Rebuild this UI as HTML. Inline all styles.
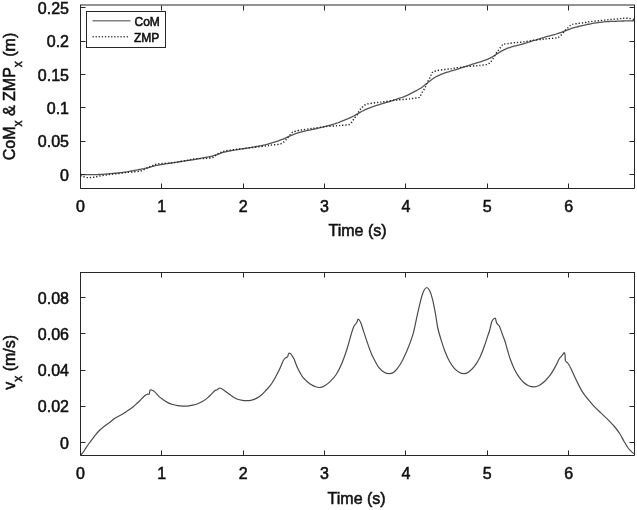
<!DOCTYPE html>
<html><head><meta charset="utf-8"><style>
html,body{margin:0;padding:0;background:#fff;width:637px;height:510px;overflow:hidden}
svg{display:block;filter:blur(0.3px)}
text{font-family:"Liberation Sans", sans-serif;font-size:16px;fill:#111;font-weight:normal;stroke:#111;stroke-width:0.55px}
</style></head><body>
<svg width="637" height="510" viewBox="0 0 637 510">
<rect width="637" height="510" fill="#fff"/>
<g clip-path="url(#c1)">
<path d="M80.50,174.49 C80.83,174.51 81.83,174.56 82.50,174.59 C83.17,174.62 83.83,174.64 84.50,174.66 C85.17,174.68 85.83,174.69 86.50,174.70 C87.17,174.71 87.83,174.71 88.50,174.71 C89.17,174.71 89.83,174.70 90.50,174.69 C91.17,174.68 91.83,174.67 92.50,174.66 C93.17,174.65 93.83,174.63 94.50,174.62 C95.17,174.60 95.83,174.59 96.50,174.57 C97.17,174.55 97.83,174.53 98.50,174.51 C99.17,174.49 99.83,174.46 100.50,174.42 C101.17,174.39 101.83,174.35 102.50,174.30 C103.17,174.26 103.83,174.21 104.50,174.16 C105.17,174.10 105.83,174.04 106.50,173.98 C107.17,173.93 107.83,173.87 108.50,173.81 C109.17,173.75 109.83,173.69 110.50,173.63 C111.17,173.57 111.83,173.51 112.50,173.45 C113.17,173.39 113.83,173.33 114.50,173.27 C115.17,173.20 115.83,173.14 116.50,173.08 C117.17,173.01 117.83,172.95 118.50,172.88 C119.17,172.82 119.83,172.75 120.50,172.68 C121.17,172.61 121.83,172.54 122.50,172.46 C123.17,172.38 123.83,172.30 124.50,172.20 C125.17,172.11 125.83,172.01 126.50,171.90 C127.17,171.79 127.83,171.67 128.50,171.55 C129.17,171.43 129.83,171.30 130.50,171.17 C131.17,171.04 131.83,170.91 132.50,170.78 C133.17,170.66 133.83,170.53 134.50,170.41 C135.17,170.28 135.83,170.16 136.50,170.04 C137.17,169.91 137.83,169.79 138.50,169.67 C139.17,169.55 139.83,169.43 140.50,169.30 C141.17,169.18 141.83,169.05 142.50,168.92 C143.17,168.79 143.83,168.65 144.50,168.51 C145.17,168.37 145.83,168.22 146.50,168.07 C147.17,167.91 147.83,167.75 148.50,167.58 C149.17,167.40 149.83,167.21 150.50,167.02 C151.17,166.84 151.83,166.64 152.50,166.45 C153.17,166.27 153.83,166.08 154.50,165.91 C155.17,165.74 155.83,165.58 156.50,165.43 C157.17,165.29 157.83,165.16 158.50,165.04 C159.17,164.92 159.83,164.81 160.50,164.70 C161.17,164.58 161.83,164.47 162.50,164.36 C163.17,164.26 163.83,164.15 164.50,164.04 C165.17,163.94 165.83,163.83 166.50,163.73 C167.17,163.62 167.83,163.52 168.50,163.42 C169.17,163.32 169.83,163.21 170.50,163.11 C171.17,163.01 171.83,162.91 172.50,162.81 C173.17,162.71 173.83,162.61 174.50,162.51 C175.17,162.41 175.83,162.31 176.50,162.21 C177.17,162.11 177.83,162.01 178.50,161.91 C179.17,161.81 179.83,161.70 180.50,161.60 C181.17,161.50 181.83,161.40 182.50,161.30 C183.17,161.20 183.83,161.10 184.50,161.00 C185.17,160.90 185.83,160.80 186.50,160.70 C187.17,160.60 187.83,160.50 188.50,160.40 C189.17,160.30 189.83,160.20 190.50,160.10 C191.17,159.99 191.83,159.89 192.50,159.78 C193.17,159.68 193.83,159.57 194.50,159.46 C195.17,159.34 195.83,159.23 196.50,159.11 C197.17,158.99 197.83,158.87 198.50,158.74 C199.17,158.62 199.83,158.49 200.50,158.36 C201.17,158.23 201.83,158.10 202.50,157.98 C203.17,157.85 203.83,157.72 204.50,157.60 C205.17,157.48 205.83,157.35 206.50,157.23 C207.17,157.11 207.83,156.99 208.50,156.87 C209.17,156.75 209.83,156.64 210.50,156.50 C211.17,156.37 211.83,156.23 212.50,156.06 C213.17,155.89 213.83,155.69 214.50,155.48 C215.17,155.27 215.83,155.03 216.50,154.79 C217.17,154.55 217.83,154.30 218.50,154.06 C219.17,153.81 219.83,153.54 220.50,153.31 C221.17,153.08 221.83,152.87 222.50,152.67 C223.17,152.47 223.83,152.31 224.50,152.14 C225.17,151.97 225.83,151.81 226.50,151.66 C227.17,151.51 227.83,151.36 228.50,151.22 C229.17,151.08 229.83,150.95 230.50,150.82 C231.17,150.69 231.83,150.56 232.50,150.43 C233.17,150.31 233.83,150.19 234.50,150.08 C235.17,149.96 235.83,149.85 236.50,149.74 C237.17,149.63 237.83,149.53 238.50,149.43 C239.17,149.32 239.83,149.22 240.50,149.12 C241.17,149.02 241.83,148.92 242.50,148.82 C243.17,148.71 243.83,148.61 244.50,148.50 C245.17,148.40 245.83,148.29 246.50,148.19 C247.17,148.08 247.83,147.97 248.50,147.86 C249.17,147.75 249.83,147.64 250.50,147.53 C251.17,147.42 251.83,147.31 252.50,147.19 C253.17,147.08 253.83,146.97 254.50,146.85 C255.17,146.74 255.83,146.63 256.50,146.51 C257.17,146.39 257.83,146.27 258.50,146.15 C259.17,146.03 259.83,145.91 260.50,145.78 C261.17,145.66 261.83,145.53 262.50,145.39 C263.17,145.25 263.83,145.11 264.50,144.95 C265.17,144.80 265.83,144.63 266.50,144.46 C267.17,144.29 267.83,144.11 268.50,143.93 C269.17,143.74 269.83,143.54 270.50,143.34 C271.17,143.15 271.83,142.94 272.50,142.74 C273.17,142.53 273.83,142.32 274.50,142.11 C275.17,141.90 275.83,141.68 276.50,141.46 C277.17,141.24 277.83,141.02 278.50,140.78 C279.17,140.55 279.83,140.32 280.50,140.08 C281.17,139.83 281.83,139.57 282.50,139.31 C283.17,139.04 283.83,138.75 284.50,138.46 C285.17,138.17 285.83,137.87 286.50,137.57 C287.17,137.26 287.83,136.96 288.50,136.65 C289.17,136.35 289.83,136.03 290.50,135.73 C291.17,135.44 291.83,135.15 292.50,134.88 C293.17,134.61 293.83,134.36 294.50,134.11 C295.17,133.87 295.83,133.64 296.50,133.42 C297.17,133.19 297.83,132.99 298.50,132.78 C299.17,132.58 299.83,132.39 300.50,132.20 C301.17,132.01 301.83,131.84 302.50,131.66 C303.17,131.49 303.83,131.33 304.50,131.17 C305.17,131.01 305.83,130.85 306.50,130.71 C307.17,130.56 307.83,130.42 308.50,130.28 C309.17,130.14 309.83,130.01 310.50,129.88 C311.17,129.74 311.83,129.60 312.50,129.46 C313.17,129.32 313.83,129.18 314.50,129.03 C315.17,128.88 315.83,128.73 316.50,128.57 C317.17,128.42 317.83,128.26 318.50,128.10 C319.17,127.94 319.83,127.77 320.50,127.61 C321.17,127.45 321.83,127.29 322.50,127.12 C323.17,126.96 323.83,126.79 324.50,126.63 C325.17,126.46 325.83,126.29 326.50,126.12 C327.17,125.95 327.83,125.78 328.50,125.60 C329.17,125.43 329.83,125.25 330.50,125.07 C331.17,124.89 331.83,124.70 332.50,124.51 C333.17,124.31 333.83,124.11 334.50,123.90 C335.17,123.68 335.83,123.46 336.50,123.23 C337.17,123.00 337.83,122.76 338.50,122.51 C339.17,122.26 339.83,121.99 340.50,121.72 C341.17,121.46 341.83,121.19 342.50,120.92 C343.17,120.65 343.83,120.38 344.50,120.10 C345.17,119.83 345.83,119.55 346.50,119.28 C347.17,119.00 347.83,118.72 348.50,118.44 C349.17,118.16 349.83,117.89 350.50,117.59 C351.17,117.29 351.83,116.98 352.50,116.64 C353.17,116.31 353.83,115.95 354.50,115.59 C355.17,115.22 355.83,114.83 356.50,114.44 C357.17,114.05 357.83,113.64 358.50,113.25 C359.17,112.85 359.83,112.45 360.50,112.08 C361.17,111.70 361.83,111.35 362.50,111.01 C363.17,110.68 363.83,110.37 364.50,110.07 C365.17,109.77 365.83,109.49 366.50,109.20 C367.17,108.92 367.83,108.65 368.50,108.38 C369.17,108.11 369.83,107.85 370.50,107.59 C371.17,107.33 371.83,107.08 372.50,106.84 C373.17,106.59 373.83,106.35 374.50,106.12 C375.17,105.89 375.83,105.66 376.50,105.45 C377.17,105.23 377.83,105.02 378.50,104.81 C379.17,104.61 379.83,104.41 380.50,104.21 C381.17,104.01 381.83,103.81 382.50,103.61 C383.17,103.42 383.83,103.22 384.50,103.02 C385.17,102.82 385.83,102.62 386.50,102.42 C387.17,102.22 387.83,102.01 388.50,101.81 C389.17,101.61 389.83,101.40 390.50,101.20 C391.17,100.99 391.83,100.79 392.50,100.58 C393.17,100.37 393.83,100.17 394.50,99.95 C395.17,99.74 395.83,99.53 396.50,99.31 C397.17,99.10 397.83,98.88 398.50,98.65 C399.17,98.43 399.83,98.20 400.50,97.96 C401.17,97.73 401.83,97.49 402.50,97.24 C403.17,96.99 403.83,96.72 404.50,96.45 C405.17,96.18 405.83,95.90 406.50,95.60 C407.17,95.31 407.83,95.00 408.50,94.69 C409.17,94.37 409.83,94.03 410.50,93.70 C411.17,93.37 411.83,93.03 412.50,92.69 C413.17,92.35 413.83,92.02 414.50,91.67 C415.17,91.33 415.83,90.98 416.50,90.62 C417.17,90.26 417.83,89.89 418.50,89.50 C419.17,89.12 419.83,88.73 420.50,88.30 C421.17,87.87 421.83,87.42 422.50,86.94 C423.17,86.46 423.83,85.93 424.50,85.40 C425.17,84.87 425.83,84.30 426.50,83.75 C427.17,83.20 427.83,82.63 428.50,82.08 C429.17,81.53 429.83,80.96 430.50,80.44 C431.17,79.92 431.83,79.42 432.50,78.96 C433.17,78.50 433.83,78.07 434.50,77.66 C435.17,77.26 435.83,76.88 436.50,76.53 C437.17,76.18 437.83,75.86 438.50,75.55 C439.17,75.24 439.83,74.95 440.50,74.67 C441.17,74.39 441.83,74.12 442.50,73.87 C443.17,73.61 443.83,73.36 444.50,73.13 C445.17,72.89 445.83,72.66 446.50,72.45 C447.17,72.23 447.83,72.02 448.50,71.82 C449.17,71.62 449.83,71.44 450.50,71.24 C451.17,71.05 451.83,70.86 452.50,70.66 C453.17,70.46 453.83,70.26 454.50,70.05 C455.17,69.85 455.83,69.64 456.50,69.43 C457.17,69.22 457.83,68.99 458.50,68.78 C459.17,68.56 459.83,68.34 460.50,68.12 C461.17,67.90 461.83,67.69 462.50,67.47 C463.17,67.26 463.83,67.04 464.50,66.83 C465.17,66.61 465.83,66.40 466.50,66.18 C467.17,65.96 467.83,65.75 468.50,65.53 C469.17,65.31 469.83,65.08 470.50,64.86 C471.17,64.64 471.83,64.41 472.50,64.20 C473.17,63.98 473.83,63.77 474.50,63.56 C475.17,63.36 475.83,63.16 476.50,62.96 C477.17,62.76 477.83,62.56 478.50,62.37 C479.17,62.17 479.83,61.99 480.50,61.79 C481.17,61.58 481.83,61.38 482.50,61.16 C483.17,60.94 483.83,60.72 484.50,60.48 C485.17,60.24 485.83,59.99 486.50,59.73 C487.17,59.46 487.83,59.18 488.50,58.88 C489.17,58.58 489.83,58.27 490.50,57.93 C491.17,57.59 491.83,57.22 492.50,56.83 C493.17,56.43 493.83,56.00 494.50,55.57 C495.17,55.14 495.83,54.67 496.50,54.23 C497.17,53.79 497.83,53.36 498.50,52.93 C499.17,52.50 499.83,52.07 500.50,51.68 C501.17,51.28 501.83,50.91 502.50,50.56 C503.17,50.21 503.83,49.90 504.50,49.59 C505.17,49.28 505.83,48.99 506.50,48.71 C507.17,48.44 507.83,48.18 508.50,47.94 C509.17,47.70 509.83,47.48 510.50,47.26 C511.17,47.04 511.83,46.84 512.50,46.65 C513.17,46.45 513.83,46.27 514.50,46.08 C515.17,45.90 515.83,45.72 516.50,45.55 C517.17,45.37 517.83,45.20 518.50,45.03 C519.17,44.86 519.83,44.69 520.50,44.52 C521.17,44.35 521.83,44.18 522.50,44.00 C523.17,43.82 523.83,43.64 524.50,43.45 C525.17,43.26 525.83,43.07 526.50,42.87 C527.17,42.67 527.83,42.46 528.50,42.25 C529.17,42.04 529.83,41.83 530.50,41.62 C531.17,41.41 531.83,41.20 532.50,40.99 C533.17,40.79 533.83,40.58 534.50,40.37 C535.17,40.16 535.83,39.96 536.50,39.75 C537.17,39.54 537.83,39.33 538.50,39.12 C539.17,38.91 539.83,38.69 540.50,38.48 C541.17,38.27 541.83,38.05 542.50,37.85 C543.17,37.65 543.83,37.45 544.50,37.26 C545.17,37.07 545.83,36.88 546.50,36.70 C547.17,36.52 547.83,36.35 548.50,36.18 C549.17,36.00 549.83,35.84 550.50,35.67 C551.17,35.50 551.83,35.32 552.50,35.14 C553.17,34.96 553.83,34.78 554.50,34.59 C555.17,34.40 555.83,34.21 556.50,34.00 C557.17,33.80 557.83,33.58 558.50,33.36 C559.17,33.14 559.83,32.91 560.50,32.66 C561.17,32.42 561.83,32.17 562.50,31.91 C563.17,31.65 563.83,31.36 564.50,31.09 C565.17,30.82 565.83,30.55 566.50,30.29 C567.17,30.03 567.83,29.78 568.50,29.53 C569.17,29.28 569.83,29.04 570.50,28.81 C571.17,28.58 571.83,28.37 572.50,28.16 C573.17,27.95 573.83,27.76 574.50,27.56 C575.17,27.37 575.83,27.19 576.50,27.01 C577.17,26.83 577.83,26.66 578.50,26.50 C579.17,26.33 579.83,26.17 580.50,26.01 C581.17,25.85 581.83,25.70 582.50,25.55 C583.17,25.40 583.83,25.25 584.50,25.11 C585.17,24.96 585.83,24.82 586.50,24.68 C587.17,24.54 587.83,24.40 588.50,24.26 C589.17,24.12 589.83,23.99 590.50,23.86 C591.17,23.73 591.83,23.60 592.50,23.48 C593.17,23.36 593.83,23.24 594.50,23.13 C595.17,23.02 595.83,22.92 596.50,22.82 C597.17,22.72 597.83,22.63 598.50,22.54 C599.17,22.46 599.83,22.37 600.50,22.29 C601.17,22.21 601.83,22.13 602.50,22.05 C603.17,21.98 603.83,21.89 604.50,21.83 C605.17,21.76 605.83,21.72 606.50,21.67 C607.17,21.63 607.83,21.59 608.50,21.55 C609.17,21.52 609.83,21.49 610.50,21.46 C611.17,21.43 611.83,21.40 612.50,21.38 C613.17,21.37 613.83,21.37 614.50,21.34 C615.17,21.32 615.83,21.29 616.50,21.26 C617.17,21.23 617.83,21.19 618.50,21.16 C619.17,21.13 619.83,21.10 620.50,21.08 C621.17,21.06 621.83,21.04 622.50,21.02 C623.17,21.00 623.83,20.98 624.50,20.96 C625.17,20.95 625.83,20.93 626.50,20.91 C627.17,20.89 627.83,20.87 628.50,20.86 C629.17,20.84 629.83,20.82 630.50,20.80 C631.17,20.78 631.83,20.77 632.50,20.75 C633.17,20.73 634.17,20.70 634.50,20.70 C634.83,20.69 634.50,20.70 634.50,20.70" fill="none" stroke="#555" stroke-width="1.3"/>
<path d="M80.50,175.80 C80.73,175.85 81.02,175.82 81.90,176.10 C82.78,176.38 84.48,177.25 85.80,177.50 C87.12,177.75 88.48,177.63 89.80,177.60 C91.12,177.57 92.40,177.48 93.70,177.30 C95.00,177.12 96.30,176.78 97.60,176.50 C98.90,176.22 100.18,175.83 101.50,175.60 C102.82,175.37 104.18,175.28 105.50,175.10 C106.82,174.92 108.10,174.67 109.40,174.50 C110.70,174.33 112.00,174.23 113.30,174.10 C114.60,173.97 115.88,173.85 117.20,173.70 C118.52,173.55 119.88,173.38 121.20,173.20 C122.52,173.02 123.97,172.75 125.10,172.60 C126.23,172.45 126.38,172.45 128.00,172.30 C129.62,172.15 132.68,171.92 134.80,171.70 C136.92,171.48 139.07,171.40 140.70,171.00 C142.33,170.60 143.30,169.90 144.60,169.30 C145.90,168.70 147.18,168.02 148.50,167.40 C149.82,166.78 151.18,166.15 152.50,165.60 C153.82,165.05 154.45,164.47 156.40,164.10 C158.35,163.73 161.27,163.65 164.20,163.40 C167.13,163.15 170.08,163.13 174.00,162.60 C177.92,162.07 184.20,160.82 187.70,160.20 C191.20,159.58 192.15,159.20 195.00,158.90 C197.85,158.60 201.87,158.63 204.80,158.40 C207.73,158.17 210.63,158.15 212.60,157.50 C214.57,156.85 215.28,155.33 216.60,154.50 C217.92,153.67 219.20,153.07 220.50,152.50 C221.80,151.93 222.12,151.58 224.40,151.10 C226.68,150.62 230.93,150.02 234.20,149.60 C237.47,149.18 240.53,149.00 244.00,148.60 C247.47,148.20 251.33,147.63 255.00,147.20 C258.67,146.77 263.52,146.32 266.00,146.00 C268.48,145.68 268.43,145.52 269.90,145.30 C271.37,145.08 273.00,144.93 274.80,144.70 C276.60,144.47 279.07,144.47 280.70,143.90 C282.33,143.33 283.53,142.20 284.60,141.30 C285.67,140.40 286.28,139.45 287.10,138.50 C287.92,137.55 288.68,136.58 289.50,135.60 C290.32,134.62 291.02,133.33 292.00,132.60 C292.98,131.87 293.68,131.65 295.40,131.20 C297.12,130.75 299.85,130.32 302.30,129.90 C304.75,129.48 308.15,128.98 310.10,128.70 C312.05,128.42 311.43,128.55 314.00,128.20 C316.57,127.85 321.67,127.00 325.50,126.60 C329.33,126.20 334.12,126.02 337.00,125.80 C339.88,125.58 340.77,125.52 342.80,125.30 C344.83,125.08 347.57,125.23 349.20,124.50 C350.83,123.77 351.70,122.00 352.60,120.90 C353.50,119.80 353.85,118.88 354.60,117.90 C355.35,116.92 356.45,115.97 357.10,115.00 C357.75,114.03 357.93,113.08 358.50,112.10 C359.07,111.12 359.77,110.00 360.50,109.10 C361.23,108.20 361.92,107.52 362.90,106.70 C363.88,105.88 364.83,104.78 366.40,104.20 C367.97,103.62 370.18,103.52 372.30,103.20 C374.42,102.88 377.15,102.53 379.10,102.30 C381.05,102.07 381.33,102.15 384.00,101.80 C386.67,101.45 391.27,100.63 395.10,100.20 C398.93,99.77 404.37,99.45 407.00,99.20 C409.63,98.95 409.60,98.87 410.90,98.70 C412.20,98.53 413.50,98.37 414.80,98.20 C416.10,98.03 417.80,98.02 418.70,97.70 C419.60,97.38 419.70,97.03 420.20,96.30 C420.70,95.57 421.22,94.20 421.70,93.30 C422.18,92.40 422.53,91.80 423.10,90.90 C423.67,90.00 424.60,88.88 425.10,87.90 C425.60,86.92 425.62,86.13 426.10,85.00 C426.58,83.87 427.35,82.33 428.00,81.10 C428.65,79.87 429.50,78.58 430.00,77.60 C430.50,76.62 430.58,76.08 431.00,75.20 C431.42,74.32 431.60,73.03 432.50,72.30 C433.40,71.57 434.77,71.22 436.40,70.80 C438.03,70.38 440.18,70.10 442.30,69.80 C444.42,69.50 447.15,69.25 449.10,69.00 C451.05,68.75 451.27,68.70 454.00,68.30 C456.73,67.90 461.67,67.02 465.50,66.60 C469.33,66.18 474.12,66.05 477.00,65.80 C479.88,65.55 481.08,65.35 482.80,65.10 C484.52,64.85 486.07,64.75 487.30,64.30 C488.53,63.85 489.32,63.22 490.20,62.40 C491.08,61.58 491.62,60.88 492.60,59.40 C493.58,57.92 495.12,55.05 496.10,53.50 C497.08,51.95 497.68,51.23 498.50,50.10 C499.32,48.97 500.18,47.68 501.00,46.70 C501.82,45.72 502.33,44.70 503.40,44.20 C504.47,43.70 505.60,43.95 507.40,43.70 C509.20,43.45 511.75,42.98 514.20,42.70 C516.65,42.42 519.08,42.37 522.10,42.00 C525.12,41.63 528.82,40.97 532.30,40.50 C535.78,40.03 540.72,39.47 543.00,39.20 C545.28,38.93 544.68,39.03 546.00,38.90 C547.32,38.77 549.10,38.57 550.90,38.40 C552.70,38.23 555.17,38.38 556.80,37.90 C558.43,37.42 559.23,36.80 560.70,35.50 C562.17,34.20 564.30,31.48 565.60,30.10 C566.90,28.72 567.52,28.10 568.50,27.20 C569.48,26.30 570.18,25.28 571.50,24.70 C572.82,24.12 574.28,24.03 576.40,23.70 C578.52,23.37 581.93,23.05 584.20,22.70 C586.47,22.35 587.80,21.90 590.00,21.60 C592.20,21.30 594.93,21.15 597.40,20.90 C599.87,20.65 602.35,20.35 604.80,20.10 C607.25,19.85 609.65,19.63 612.10,19.40 C614.55,19.17 617.65,18.88 619.50,18.70 C621.35,18.52 621.60,18.35 623.20,18.30 C624.80,18.25 627.22,18.20 629.10,18.40 C630.98,18.60 633.60,19.32 634.50,19.50" fill="none" stroke="#222" stroke-width="1.4" stroke-dasharray="1.3 1.9"/>
</g>
<g clip-path="url(#c2)">
<path d="M80.50,455.00 C80.87,454.65 81.82,454.03 82.70,452.90 C83.58,451.77 84.75,449.77 85.80,448.20 C86.85,446.63 87.95,444.98 89.00,443.50 C90.05,442.02 91.05,440.68 92.10,439.30 C93.15,437.92 94.25,436.50 95.30,435.20 C96.35,433.90 97.37,432.60 98.40,431.50 C99.43,430.40 100.45,429.52 101.50,428.60 C102.55,427.68 103.28,427.07 104.70,426.00 C106.12,424.93 108.43,423.40 110.00,422.20 C111.57,421.00 112.73,419.77 114.10,418.80 C115.47,417.83 116.83,417.17 118.20,416.40 C119.57,415.63 120.92,415.03 122.30,414.20 C123.68,413.37 125.23,412.23 126.50,411.40 C127.77,410.57 128.77,409.97 129.90,409.20 C131.03,408.43 132.27,407.65 133.30,406.80 C134.33,405.95 135.07,405.07 136.10,404.10 C137.13,403.13 138.48,401.98 139.50,401.00 C140.52,400.02 141.28,399.12 142.20,398.20 C143.12,397.28 144.12,396.17 145.00,395.50 C145.88,394.83 146.82,394.42 147.50,394.20 C148.18,393.98 148.75,394.53 149.10,394.20 C149.45,393.87 149.42,392.90 149.60,392.20 C149.78,391.50 149.90,390.38 150.20,390.00 C150.50,389.62 150.68,389.63 151.40,389.90 C152.12,390.17 153.25,390.52 154.50,391.60 C155.75,392.68 157.43,395.03 158.90,396.40 C160.37,397.77 161.83,398.77 163.30,399.80 C164.77,400.83 166.15,401.82 167.70,402.60 C169.25,403.38 170.95,404.00 172.60,404.50 C174.25,405.00 175.92,405.33 177.60,405.60 C179.28,405.87 181.02,406.02 182.70,406.10 C184.38,406.18 186.03,406.25 187.70,406.10 C189.37,405.95 191.03,405.60 192.70,405.20 C194.37,404.80 196.02,404.37 197.70,403.70 C199.38,403.03 201.12,402.22 202.80,401.20 C204.48,400.18 206.33,398.82 207.80,397.60 C209.27,396.38 210.45,395.05 211.60,393.90 C212.75,392.75 213.77,391.38 214.70,390.70 C215.63,390.02 216.37,390.25 217.20,389.80 C218.03,389.35 218.75,388.05 219.70,388.00 C220.65,387.95 222.02,389.00 222.90,389.50 C223.78,390.00 224.13,390.37 225.00,391.00 C225.87,391.63 226.80,392.33 228.10,393.30 C229.40,394.27 231.23,395.80 232.80,396.80 C234.37,397.80 235.92,398.70 237.50,399.30 C239.08,399.90 240.72,400.17 242.30,400.40 C243.88,400.63 245.43,400.75 247.00,400.70 C248.57,400.65 250.13,400.48 251.70,400.10 C253.27,399.72 254.83,399.22 256.40,398.40 C257.97,397.58 259.53,396.52 261.10,395.20 C262.67,393.88 264.23,392.17 265.80,390.50 C267.37,388.83 268.93,387.33 270.50,385.20 C272.07,383.07 273.95,379.85 275.20,377.70 C276.45,375.55 277.20,373.88 278.00,372.30 C278.80,370.72 279.40,369.50 280.00,368.20 C280.60,366.90 281.02,365.82 281.60,364.50 C282.18,363.18 282.85,361.40 283.50,360.30 C284.15,359.20 284.83,358.48 285.50,357.90 C286.17,357.32 287.05,357.32 287.50,356.80 C287.95,356.28 287.95,355.40 288.20,354.80 C288.45,354.20 288.60,353.40 289.00,353.20 C289.40,353.00 290.02,353.07 290.60,353.60 C291.18,354.13 291.92,355.48 292.50,356.40 C293.08,357.32 293.57,357.93 294.10,359.10 C294.63,360.27 295.12,361.92 295.70,363.40 C296.28,364.88 296.88,366.47 297.60,368.00 C298.32,369.53 299.18,371.13 300.00,372.60 C300.82,374.07 301.65,375.63 302.50,376.80 C303.35,377.97 304.15,378.65 305.10,379.60 C306.05,380.55 307.22,381.67 308.20,382.50 C309.18,383.33 309.93,383.95 311.00,384.60 C312.07,385.25 313.18,385.92 314.60,386.40 C316.02,386.88 317.87,387.57 319.50,387.50 C321.13,387.43 322.60,387.02 324.40,386.00 C326.20,384.98 328.33,383.32 330.30,381.40 C332.27,379.48 334.23,377.62 336.20,374.50 C338.17,371.38 340.30,366.95 342.10,362.70 C343.90,358.45 345.53,353.57 347.00,349.00 C348.47,344.43 349.77,339.05 350.90,335.30 C352.03,331.55 352.82,328.63 353.80,326.50 C354.78,324.37 356.08,323.72 356.80,322.50 C357.52,321.28 357.45,319.20 358.10,319.20 C358.75,319.20 359.78,320.47 360.70,322.50 C361.62,324.53 362.47,327.97 363.60,331.40 C364.73,334.83 366.18,339.35 367.50,343.10 C368.82,346.85 370.42,351.25 371.50,353.90 C372.58,356.55 372.80,356.77 374.00,359.00 C375.20,361.23 376.93,365.05 378.70,367.30 C380.47,369.55 382.80,371.43 384.60,372.50 C386.40,373.57 387.87,373.82 389.50,373.70 C391.13,373.58 392.60,373.37 394.40,371.80 C396.20,370.23 398.33,367.52 400.30,364.30 C402.27,361.08 404.12,357.40 406.20,352.50 C408.28,347.60 411.00,340.93 412.80,334.90 C414.60,328.87 415.65,322.18 417.00,316.30 C418.35,310.42 419.77,303.85 420.90,299.60 C422.03,295.35 422.82,292.82 423.80,290.80 C424.78,288.78 425.82,287.50 426.80,287.50 C427.78,287.50 428.73,288.78 429.70,290.80 C430.67,292.82 431.65,295.82 432.60,299.60 C433.55,303.38 434.53,308.77 435.40,313.50 C436.27,318.23 436.88,323.72 437.80,328.00 C438.72,332.28 439.73,335.37 440.90,339.20 C442.07,343.03 443.33,347.23 444.80,351.00 C446.27,354.77 448.07,358.87 449.70,361.80 C451.33,364.73 452.97,366.82 454.60,368.60 C456.23,370.38 457.93,371.65 459.50,372.50 C461.07,373.35 462.53,373.75 464.00,373.70 C465.47,373.65 466.60,373.37 468.30,372.20 C470.00,371.03 472.23,369.25 474.20,366.70 C476.17,364.15 478.35,360.48 480.10,356.90 C481.85,353.32 483.45,348.62 484.70,345.20 C485.95,341.78 486.78,338.85 487.60,336.40 C488.42,333.95 488.93,332.87 489.60,330.50 C490.27,328.13 491.03,324.00 491.60,322.20 C492.17,320.40 492.38,320.37 493.00,319.70 C493.62,319.03 494.75,317.82 495.30,318.20 C495.85,318.58 495.93,321.00 496.30,322.00 C496.67,323.00 496.98,323.48 497.50,324.20 C498.02,324.92 498.58,324.60 499.40,326.30 C500.22,328.00 501.42,331.73 502.40,334.40 C503.38,337.07 504.43,339.62 505.30,342.30 C506.17,344.98 506.73,347.58 507.60,350.50 C508.47,353.42 509.37,356.68 510.50,359.80 C511.63,362.92 512.97,366.32 514.40,369.20 C515.83,372.08 517.53,374.88 519.10,377.10 C520.67,379.32 522.23,381.07 523.80,382.50 C525.37,383.93 526.80,384.97 528.50,385.70 C530.20,386.43 532.17,386.98 534.00,386.90 C535.83,386.82 537.67,386.18 539.50,385.20 C541.33,384.22 543.17,382.75 545.00,381.00 C546.83,379.25 548.80,377.05 550.50,374.70 C552.20,372.35 553.77,369.52 555.20,366.90 C556.63,364.28 557.92,360.97 559.10,359.00 C560.28,357.03 561.43,356.15 562.30,355.10 C563.17,354.05 563.83,352.70 564.30,352.70 C564.77,352.70 564.92,353.78 565.10,355.10 C565.28,356.42 564.97,359.28 565.40,360.60 C565.83,361.92 566.78,361.70 567.70,363.00 C568.62,364.30 569.72,366.05 570.90,368.40 C572.08,370.75 573.43,374.18 574.80,377.10 C576.17,380.02 577.80,383.40 579.10,385.90 C580.40,388.40 581.27,390.05 582.60,392.10 C583.93,394.15 585.33,396.00 587.10,398.20 C588.87,400.40 591.00,402.93 593.20,405.30 C595.40,407.67 597.93,410.10 600.30,412.40 C602.67,414.70 605.05,416.75 607.40,419.10 C609.75,421.45 612.35,424.10 614.40,426.50 C616.45,428.90 618.08,431.00 619.70,433.50 C621.32,436.00 622.63,439.00 624.10,441.50 C625.57,444.00 627.03,446.60 628.50,448.50 C629.97,450.40 631.90,452.02 632.90,452.90 C633.90,453.78 634.23,453.65 634.50,453.80" fill="none" stroke="#4a4a4a" stroke-width="1.2"/>
</g>
<defs>
<clipPath id="c1"><rect x="80" y="5" width="555" height="184"/></clipPath>
<clipPath id="c2"><rect x="80" y="272" width="555" height="184"/></clipPath>
</defs>
<path d="M80.5,5.0 V188.5 H634.5 V5.0" fill="none" stroke="#262626" stroke-width="1"/>
<line x1="80.0" y1="5.0" x2="635.0" y2="5.0" stroke="#262626" stroke-width="1"/>
<line x1="80.5" y1="188.5" x2="80.5" y2="183.5" stroke="#262626"/>
<line x1="80.5" y1="5.5" x2="80.5" y2="10.5" stroke="#262626"/>
<text x="80.5" y="212" text-anchor="middle">0</text>
<line x1="161.5" y1="188.5" x2="161.5" y2="183.5" stroke="#262626"/>
<line x1="161.5" y1="5.5" x2="161.5" y2="10.5" stroke="#262626"/>
<text x="161.8" y="212" text-anchor="middle">1</text>
<line x1="243.5" y1="188.5" x2="243.5" y2="183.5" stroke="#262626"/>
<line x1="243.5" y1="5.5" x2="243.5" y2="10.5" stroke="#262626"/>
<text x="243.2" y="212" text-anchor="middle">2</text>
<line x1="324.5" y1="188.5" x2="324.5" y2="183.5" stroke="#262626"/>
<line x1="324.5" y1="5.5" x2="324.5" y2="10.5" stroke="#262626"/>
<text x="324.5" y="212" text-anchor="middle">3</text>
<line x1="405.5" y1="188.5" x2="405.5" y2="183.5" stroke="#262626"/>
<line x1="405.5" y1="5.5" x2="405.5" y2="10.5" stroke="#262626"/>
<text x="405.9" y="212" text-anchor="middle">4</text>
<line x1="487.5" y1="188.5" x2="487.5" y2="183.5" stroke="#262626"/>
<line x1="487.5" y1="5.5" x2="487.5" y2="10.5" stroke="#262626"/>
<text x="487.2" y="212" text-anchor="middle">5</text>
<line x1="568.5" y1="188.5" x2="568.5" y2="183.5" stroke="#262626"/>
<line x1="568.5" y1="5.5" x2="568.5" y2="10.5" stroke="#262626"/>
<text x="568.6" y="212" text-anchor="middle">6</text>
<line x1="80.5" y1="7.5" x2="85.5" y2="7.5" stroke="#262626"/>
<line x1="634.5" y1="7.5" x2="629.5" y2="7.5" stroke="#262626"/>
<text x="69" y="14.0" text-anchor="end">0.25</text>
<line x1="80.5" y1="41.5" x2="85.5" y2="41.5" stroke="#262626"/>
<line x1="634.5" y1="41.5" x2="629.5" y2="41.5" stroke="#262626"/>
<text x="69" y="47.3" text-anchor="end">0.2</text>
<line x1="80.5" y1="74.5" x2="85.5" y2="74.5" stroke="#262626"/>
<line x1="634.5" y1="74.5" x2="629.5" y2="74.5" stroke="#262626"/>
<text x="69" y="80.6" text-anchor="end">0.15</text>
<line x1="80.5" y1="107.5" x2="85.5" y2="107.5" stroke="#262626"/>
<line x1="634.5" y1="107.5" x2="629.5" y2="107.5" stroke="#262626"/>
<text x="69" y="113.9" text-anchor="end">0.1</text>
<line x1="80.5" y1="141.5" x2="85.5" y2="141.5" stroke="#262626"/>
<line x1="634.5" y1="141.5" x2="629.5" y2="141.5" stroke="#262626"/>
<text x="69" y="147.2" text-anchor="end">0.05</text>
<line x1="80.5" y1="174.5" x2="85.5" y2="174.5" stroke="#262626"/>
<line x1="634.5" y1="174.5" x2="629.5" y2="174.5" stroke="#262626"/>
<text x="69" y="180.5" text-anchor="end">0</text>
<path d="M80.5,272.5 V455.5 H634.5 V272.5" fill="none" stroke="#262626" stroke-width="1"/>
<line x1="80.0" y1="272.5" x2="635.0" y2="272.5" stroke="#262626" stroke-width="1"/>
<line x1="80.5" y1="455.5" x2="80.5" y2="450.5" stroke="#262626"/>
<line x1="80.5" y1="272.5" x2="80.5" y2="277.5" stroke="#262626"/>
<text x="80.5" y="479" text-anchor="middle">0</text>
<line x1="161.5" y1="455.5" x2="161.5" y2="450.5" stroke="#262626"/>
<line x1="161.5" y1="272.5" x2="161.5" y2="277.5" stroke="#262626"/>
<text x="161.8" y="479" text-anchor="middle">1</text>
<line x1="243.5" y1="455.5" x2="243.5" y2="450.5" stroke="#262626"/>
<line x1="243.5" y1="272.5" x2="243.5" y2="277.5" stroke="#262626"/>
<text x="243.2" y="479" text-anchor="middle">2</text>
<line x1="324.5" y1="455.5" x2="324.5" y2="450.5" stroke="#262626"/>
<line x1="324.5" y1="272.5" x2="324.5" y2="277.5" stroke="#262626"/>
<text x="324.5" y="479" text-anchor="middle">3</text>
<line x1="405.5" y1="455.5" x2="405.5" y2="450.5" stroke="#262626"/>
<line x1="405.5" y1="272.5" x2="405.5" y2="277.5" stroke="#262626"/>
<text x="405.9" y="479" text-anchor="middle">4</text>
<line x1="487.5" y1="455.5" x2="487.5" y2="450.5" stroke="#262626"/>
<line x1="487.5" y1="272.5" x2="487.5" y2="277.5" stroke="#262626"/>
<text x="487.2" y="479" text-anchor="middle">5</text>
<line x1="568.5" y1="455.5" x2="568.5" y2="450.5" stroke="#262626"/>
<line x1="568.5" y1="272.5" x2="568.5" y2="277.5" stroke="#262626"/>
<text x="568.6" y="479" text-anchor="middle">6</text>
<line x1="80.5" y1="297.5" x2="85.5" y2="297.5" stroke="#262626"/>
<line x1="634.5" y1="297.5" x2="629.5" y2="297.5" stroke="#262626"/>
<text x="69" y="303.5" text-anchor="end">0.08</text>
<line x1="80.5" y1="333.5" x2="85.5" y2="333.5" stroke="#262626"/>
<line x1="634.5" y1="333.5" x2="629.5" y2="333.5" stroke="#262626"/>
<text x="69" y="339.8" text-anchor="end">0.06</text>
<line x1="80.5" y1="370.5" x2="85.5" y2="370.5" stroke="#262626"/>
<line x1="634.5" y1="370.5" x2="629.5" y2="370.5" stroke="#262626"/>
<text x="69" y="376.1" text-anchor="end">0.04</text>
<line x1="80.5" y1="406.5" x2="85.5" y2="406.5" stroke="#262626"/>
<line x1="634.5" y1="406.5" x2="629.5" y2="406.5" stroke="#262626"/>
<text x="69" y="412.4" text-anchor="end">0.02</text>
<line x1="80.5" y1="442.5" x2="85.5" y2="442.5" stroke="#262626"/>
<line x1="634.5" y1="442.5" x2="629.5" y2="442.5" stroke="#262626"/>
<text x="69" y="448.7" text-anchor="end">0</text>
<!-- legend -->
<rect x="86.5" y="11.5" width="79" height="36" fill="#fff" stroke="#262626"/>
<line x1="92.5" y1="20.8" x2="130.5" y2="20.8" stroke="#808080" stroke-width="1.6"/>
<line x1="92.5" y1="36.8" x2="129.5" y2="36.8" stroke="#444" stroke-width="1.4" stroke-dasharray="1.3 1.8"/>
<text x="134.5" y="26" style="font-size:12px">CoM</text>
<text x="134" y="42" style="font-size:12px">ZMP</text>
<!-- x labels -->
<text x="357.5" y="236" text-anchor="middle">Time (s)</text>
<text x="356.6" y="504" text-anchor="middle">Time (s)</text>
<!-- y labels -->
<text transform="translate(14.8,96.5) rotate(-90)" text-anchor="middle">CoM<tspan style="font-size:12px" dy="7">x</tspan><tspan dy="-7"> &amp; ZMP</tspan><tspan style="font-size:12px" dy="7">x</tspan><tspan dy="-7"> (m)</tspan></text>
<text transform="translate(14.8,362.3) rotate(-90)" text-anchor="middle">v<tspan style="font-size:12px" dy="7">x</tspan><tspan dy="-7"> (m/s)</tspan></text>
</svg>
</body></html>
